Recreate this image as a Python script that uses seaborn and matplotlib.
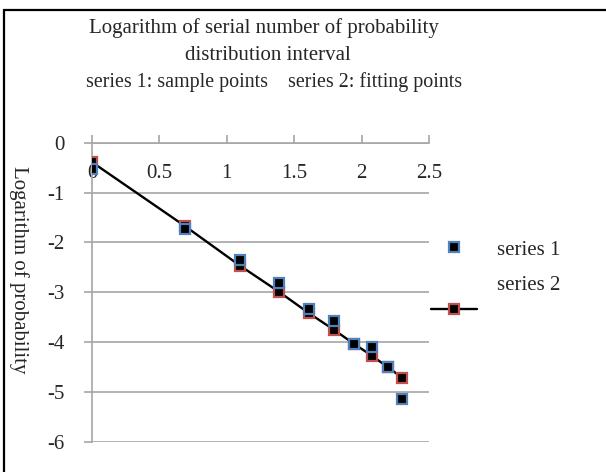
import matplotlib
matplotlib.use("Agg")
import matplotlib.pyplot as plt
from matplotlib.lines import Line2D
from matplotlib.patches import Rectangle
from matplotlib.legend_handler import HandlerLine2D
import seaborn as sns
import pandas as pd

# ---- data ----
log_interval = [0.0, 0.693, 1.099, 1.386, 1.609, 1.792, 1.946, 2.079, 2.197, 2.303]
series1_sample = [-0.53, -1.73, -2.35, -2.81, -3.33, -3.58, -4.03, -4.09, -4.51, -5.15]
series2_fit = [-0.39, -1.68, -2.47, -2.99, -3.42, -3.75, -4.04, -4.28, -4.51, -4.72]
x_ticks = [0, 0.5, 1, 1.5, 2, 2.5]
x_tick_labels = ["0", "0.5", "1", "1.5", "2", "2.5"]
y_ticks = [0, -1, -2, -3, -4, -5, -6]
y_tick_labels = ["0", "-1", "-2", "-3", "-4", "-5", "-6"]
title_lines = ["Logarithm of serial number of probability",
               "distribution interval",
               "series 1: sample points    series 2: fitting points"]
y_label = "Logarithm of probability"
legend_labels = ["series 1", "series 2"]

df = pd.DataFrame({"x": log_interval, "s1": series1_sample, "s2": series2_fit})

sns.set_theme(style="white")
plt.rcParams["font.family"] = ["Liberation Serif", "DejaVu Serif"]

FS = 15
BLUE = "#4F81BD"
RED = "#C0504D"
GRID = "#A6A6A6"


class ShiftedLineHandler(HandlerLine2D):
    """Legend key drawn lower than its label (Excel-like layout)."""
    def __init__(self, dy=0, **kw):
        super().__init__(**kw)
        self._dy = dy

    def create_artists(self, *args, **kwargs):
        artists = super().create_artists(*args, **kwargs)
        for a in artists:
            a.set_ydata([y - self._dy for y in a.get_ydata()])
        return artists


fig = plt.figure(figsize=(6.06, 4.72), dpi=100)
ax = fig.add_axes([92 / 606, 1 - 441.7 / 472, 337 / 606, 299 / 472])

# series 2: fitting points with line
sns.lineplot(data=df, x="x", y="s2", ax=ax, color="black", linewidth=1.7,
             marker="s", markersize=6.5, markerfacecolor="black",
             markeredgecolor=RED, markeredgewidth=1.6, zorder=3)
# series 1: sample points only
sns.lineplot(data=df, x="x", y="s1", ax=ax, linestyle="none",
             marker="s", markersize=6.5, markerfacecolor="black",
             markeredgecolor=BLUE, markeredgewidth=1.6, zorder=4)

ax.set_xlim(0, 2.5)
ax.set_ylim(-6, 0)
ax.set_xticks(x_ticks)
ax.set_xticklabels(x_tick_labels)
ax.set_yticks(y_ticks)
ax.set_yticklabels(y_tick_labels)

# x axis crosses at y = 0 (top), labels below it, ticks pointing up
ax.spines["bottom"].set_position(("data", 0))
ax.spines["top"].set_visible(False)
ax.spines["right"].set_visible(False)
for s in ("bottom", "left"):
    ax.spines[s].set_color(GRID)
    ax.spines[s].set_linewidth(1.2)
ax.tick_params(axis="x", direction="in", length=6, width=1.2, color=GRID,
               pad=15, labelsize=FS, bottom=True)
ax.tick_params(axis="y", direction="out", length=6, width=1.2, color=GRID,
               pad=14, labelsize=FS, left=True)
for lab in ax.get_xticklabels():
    lab.set_zorder(1)
ax.yaxis.grid(True, color=GRID, linewidth=1.2)
ax.xaxis.grid(False)
ax.set_axisbelow(True)

ax.set_xlabel("")
ax.set_ylabel(y_label, fontsize=FS, rotation=270, labelpad=0)
ax.yaxis.set_label_coords(-0.247, 0.574)

# title lines
for txt, yy, xx, fs in zip(title_lines, [28, 55, 82], [264, 268, 274],
                           [FS, FS, 14.4]):
    fig.text(xx / 606, 1 - yy / 472, txt, ha="center", va="center", fontsize=fs)

# legend (Excel style: series 2 key sits below its label)
h1 = Line2D([], [], linestyle="none", marker="s", markersize=6.5,
            markerfacecolor="black", markeredgecolor=BLUE, markeredgewidth=1.6)
h2 = Line2D([], [], color="black", linewidth=1.7, marker="s", markersize=6.5,
            markerfacecolor="black", markeredgecolor=RED, markeredgewidth=1.6)
leg = ax.legend(handles=[h1, h2], labels=legend_labels, frameon=False,
                fontsize=FS, loc="upper left",
                bbox_to_anchor=(431 / 606, 1 - 240 / 472),
                bbox_transform=fig.transFigure, borderpad=0, borderaxespad=0,
                handlelength=2.2, handletextpad=0.95, labelspacing=0.75,
                handler_map={h2: ShiftedLineHandler(dy=19)})

# chart border (top and left edges)
fig.add_artist(Rectangle((4 / 606, -0.2), 1.2, 1.2 - 10 / 472,
                         transform=fig.transFigure, fill=False,
                         edgecolor="black", linewidth=1.6))

fig.savefig("out.png", dpi=100)
